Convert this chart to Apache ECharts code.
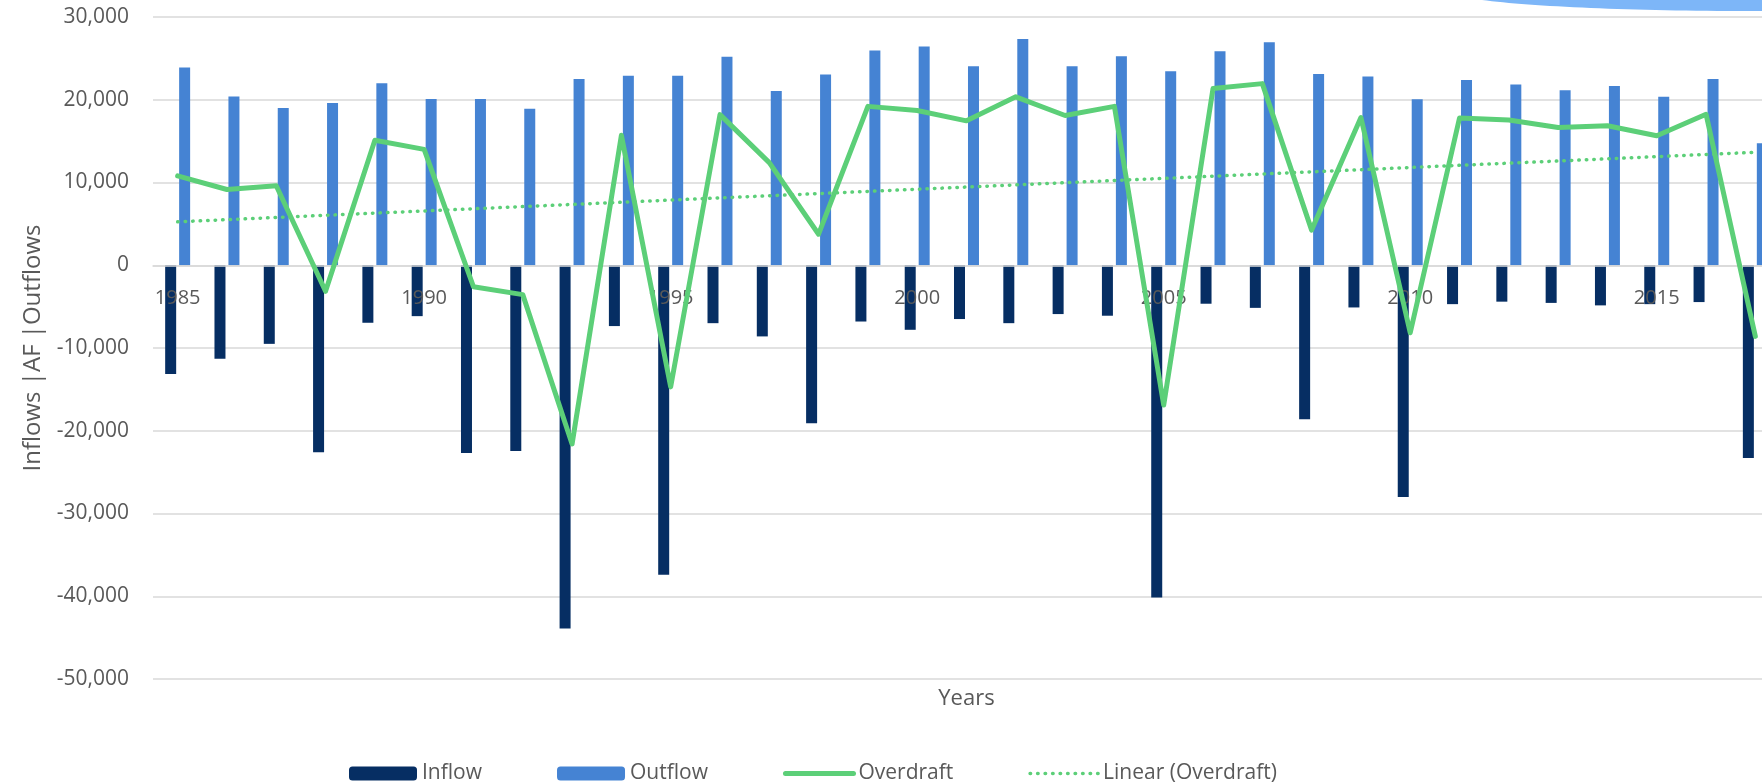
<!DOCTYPE html>
<html>
<head>
<meta charset="utf-8">
<script src="https://cdn.jsdelivr.net/npm/echarts@6/dist/echarts.min.js"></script>
<style>
  html, body { margin: 0; padding: 0; background: #ffffff; overflow: hidden; }
  #chart { width: 1762px; height: 782px; }
</style>
</head>
<body>
<div id="chart"></div>
<script>
// Annual water budget, acre-feet (AF)
const years = [
  '1985','1986','1987','1988','1989','1990','1991','1992','1993','1994',
  '1995','1996','1997','1998','1999','2000','2001','2002','2003','2004',
  '2005','2006','2007','2008','2009','2010','2011','2012','2013','2014',
  '2015','2016','2017'
];

// Inflows are plotted below zero
const inflow = [
  -13150, -11300, -9500, -22600, -6950, -6150, -22700, -22450, -43900, -7350,
  -37400, -7000, -8600, -19100, -6800, -7800, -6500, -7000, -5900, -6100,
  -40150, -4650, -5150, -18600, -5100, -28000, -4700, -4400, -4550, -4850,
  -4700, -4450, -23300
];

const outflow = [
  23900, 20400, 19000, 19600, 22000, 20100, 20100, 18900, 22500, 22900,
  22900, 25200, 21050, 23050, 25950, 26450, 24050, 27350, 24050, 25250,
  23450, 25850, 26950, 23100, 22800, 20050, 22400, 21850, 21150, 21650,
  20350, 22500, 14750
];

const overdraft = [
  10800, 9150, 9600, -3150, 15100, 14000, -2600, -3550, -21600, 15700,
  -14700, 18200, 12400, 3750, 19200, 18700, 17450, 20350, 18100, 19200,
  -16900, 21350, 21950, 4250, 17850, -8150, 17800, 17550, 16650, 16850,
  15650, 18250, -8600
];

// Linear trend of overdraft: values at the first and last year
const trendStart = 5250;
const trendEnd = 13650;

const yMin = -50000;
const yMax = 30000;
const yStep = 10000;

const trend = years.map(function (y, i) {
  if (i === 0) return trendStart;
  if (i === years.length - 1) return trendEnd;
  return null;
});

const FONT = "'Open Sans', 'Noto Sans', sans-serif";
const TEXT = '#595959';
const GREEN = '#5CCF78';

// Plot area in pixels
const GRID_TOP = 17;
const GRID_BOTTOM = 103;
const CHART_H = 782;

// The category axis sits on the zero line: lift it from the grid bottom
const plotH = CHART_H - GRID_TOP - GRID_BOTTOM;
const zeroFromBottom = plotH * (0 - yMin) / (yMax - yMin);

const chart = echarts.init(document.getElementById('chart'), null, { renderer: 'canvas' });

chart.setOption({
  animation: false,
  backgroundColor: '#ffffff',
  textStyle: { fontFamily: FONT },
  graphic: [{
    type: 'ellipse',
    z: -1,
    shape: { cx: 1750, cy: -9, rx: 300, ry: 20 },
    style: { fill: '#7DB6F8' }
  }],
  grid: {
    left: 153, right: -18, top: GRID_TOP, bottom: GRID_BOTTOM,
    outerBoundsMode: 'none',
    containLabel: false
  },
  legend: {
    left: 344,
    top: 758,
    itemWidth: 68,
    itemHeight: 14,
    itemGap: 75,
    textStyle: { fontFamily: FONT, fontSize: 21, color: TEXT },
    data: [
      { name: 'Inflow' },
      { name: 'Outflow' },
      { name: 'Overdraft', itemStyle: { opacity: 0 }, lineStyle: { width: 5, cap: 'round' } },
      { name: 'Linear (Overdraft)', itemStyle: { opacity: 0 }, lineStyle: { width: 3.5, cap: 'round', type: [0.5, 7] } }
    ]
  },
  xAxis: {
    type: 'category',
    data: years,
    boundaryGap: true,
    position: 'bottom',
    offset: -zeroFromBottom,
    z: 3,
    name: 'Years',
    nameLocation: 'middle',
    nameGap: 422,
    nameTextStyle: { fontFamily: FONT, fontSize: 22, color: TEXT },
    axisLine: { onZero: false, lineStyle: { color: '#d9d9d9', width: 1.5 } },
    axisTick: { show: false },
    axisLabel: {
      interval: 4,
      margin: 23,
      fontFamily: FONT,
      fontSize: 20,
      color: TEXT
    },
    splitLine: { show: false }
  },
  yAxis: {
    type: 'value',
    min: yMin,
    max: yMax,
    interval: yStep,
    name: 'Inflows |AF |Outflows',
    nameLocation: 'middle',
    nameRotate: 90,
    nameGap: 108,
    nameTextStyle: { fontFamily: FONT, fontSize: 24, color: TEXT },
    axisLine: { show: false },
    axisTick: { show: false },
    axisLabel: {
      margin: 24,
      fontFamily: FONT,
      fontSize: 21,
      color: TEXT,
      formatter: function (v) { return echarts.format.addCommas(v); }
    },
    splitLine: { lineStyle: { color: '#d9d9d9', width: 1.5 } }
  },
  series: [
    {
      name: 'Inflow',
      type: 'bar',
      data: inflow,
      barWidth: 11,
      barGap: '27%',
      itemStyle: { color: '#062E63' },
      z: 2
    },
    {
      name: 'Outflow',
      type: 'bar',
      data: outflow,
      barWidth: 11,
      barGap: '27%',
      itemStyle: { color: '#4583D3' },
      z: 2
    },
    {
      name: 'Overdraft',
      type: 'line',
      data: overdraft,
      symbol: 'none',
      lineStyle: { color: GREEN, width: 5, cap: 'round', join: 'round' },
      itemStyle: { color: GREEN },
      z: 5
    },
    {
      name: 'Linear (Overdraft)',
      type: 'line',
      data: trend,
      connectNulls: true,
      symbol: 'none',
      lineStyle: { color: GREEN, width: 3.5, type: [0.5, 7], cap: 'round' },
      itemStyle: { color: GREEN },
      z: 4
    }
  ]
});
</script>
</body>
</html>
